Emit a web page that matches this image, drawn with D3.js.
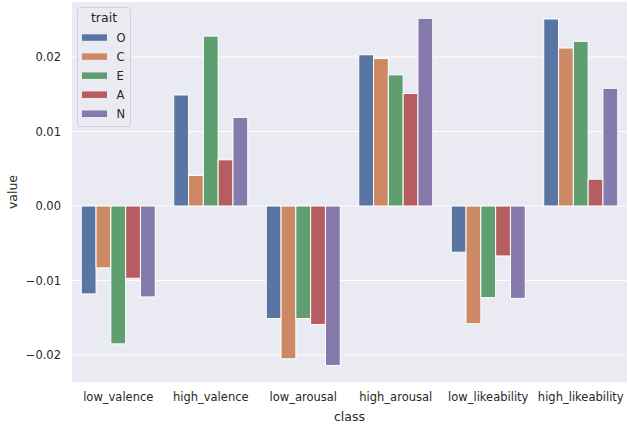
<!DOCTYPE html>
<html><head><meta charset="utf-8">
<script src="https://cdn.jsdelivr.net/npm/d3@7"></script>
<style>body{margin:0;background:#fff}svg{display:block}text{font-family:"DejaVu Sans",sans-serif;fill:#262626}</style>
</head><body><svg id="c" width="628" height="425"></svg>
<script>
const classes = ["low_valence","high_valence","low_arousal","high_arousal","low_likeability","high_likeability"];
const traits = ["O","C","E","A","N"];
const O = [-0.0118, 0.0149, -0.0151, 0.0203, -0.0062, 0.0251];
const C = [-0.0083, 0.0041, -0.0205, 0.0198, -0.0158, 0.0212];
const E = [-0.0185, 0.0228, -0.0151, 0.0176, -0.0123, 0.0221];
const A = [-0.0097, 0.0062, -0.0159, 0.0151, -0.0067, 0.0036];
const N = [-0.0122, 0.0119, -0.0214, 0.0252, -0.0124, 0.0158];
const yTicks = [-0.02, -0.01, 0.00, 0.01, 0.02];
const colors = ["#5975a4","#cc8963","#5f9e6e","#b55d60","#857aab"];
const series = {O, C, E, A, N};

const svg = d3.select("#c");
const L = 72, R = 627, T = 2, B = 382;
const x = d3.scaleBand().domain(classes).range([L, R]).paddingInner(0).paddingOuter(0);
const x1 = d3.scaleBand().domain(traits).range([0, x.bandwidth()*0.8]);
const y = d3.scaleLinear().domain([-0.02362, 0.02738]).range([B, T]);

svg.append("rect").attr("x", L).attr("y", T).attr("width", R-L).attr("height", B-T).attr("fill", "#eaeaf2");
svg.append("g").selectAll("line").data(yTicks).join("line")
  .attr("x1", L).attr("x2", R).attr("y1", d => y(d)).attr("y2", d => y(d))
  .attr("stroke", "#fff").attr("stroke-width", 1);

const fmt = d => (d < 0 ? "\u2212" : "") + Math.abs(d).toFixed(2);
const yAxis = d3.axisLeft(y).tickValues(yTicks).tickFormat(fmt).tickSize(0).tickPadding(11);
const gy = svg.append("g").attr("transform", `translate(${L},0)`).call(yAxis);
gy.select(".domain").remove();
gy.selectAll("text").attr("font-size", 11.5).attr("fill", "#262626").style("font-family", "DejaVu Sans");

const xAxis = d3.axisBottom(x).tickSize(0).tickPadding(11);
const gx = svg.append("g").attr("transform", `translate(0,${B})`).call(xAxis);
gx.select(".domain").remove();
gx.selectAll("text").attr("font-size", 11.5).attr("fill", "#262626").style("font-family", "DejaVu Sans");

const data = [];
classes.forEach((c, i) => traits.forEach(t => data.push({c, t, v: series[t][i]})));
svg.append("g").selectAll("rect").data(data).join("rect")
  .attr("x", d => x(d.c) + x.bandwidth()*0.1 + x1(d.t))
  .attr("width", x1.bandwidth())
  .attr("y", d => Math.min(y(d.v), y(0)))
  .attr("height", d => Math.abs(y(d.v) - y(0)))
  .attr("fill", d => colors[traits.indexOf(d.t)])
  .attr("stroke", "#fff").attr("stroke-width", 1);

svg.append("text").attr("x", (L+R)/2).attr("y", 420.5).attr("text-anchor", "middle").attr("font-size", 12.5).text("class");
svg.append("text").attr("transform", `translate(17,${(T+B)/2}) rotate(-90)`).attr("text-anchor", "middle").attr("font-size", 12.5).text("value");

// legend
const lg = svg.append("g");
lg.append("rect").attr("x", 77.5).attr("y", 7.5).attr("width", 53).attr("height", 119).attr("rx", 3)
  .attr("fill", "#eaeaf2").attr("fill-opacity", 0.8).attr("stroke", "#d0d0d8").attr("stroke-width", 1);
lg.append("text").attr("x", 104).attr("y", 22).attr("text-anchor", "middle").attr("font-size", 12.5).text("trait");
traits.forEach((t, i) => {
  const cy = 37.5 + i * 19.05;
  lg.append("rect").attr("x", 82).attr("y", cy - 3.2).attr("width", 25).attr("height", 6.5).attr("fill", colors[i]);
  lg.append("text").attr("x", 116.5).attr("y", cy + 4.2).attr("font-size", 11.5).text(t);
});
</script></body></html>
